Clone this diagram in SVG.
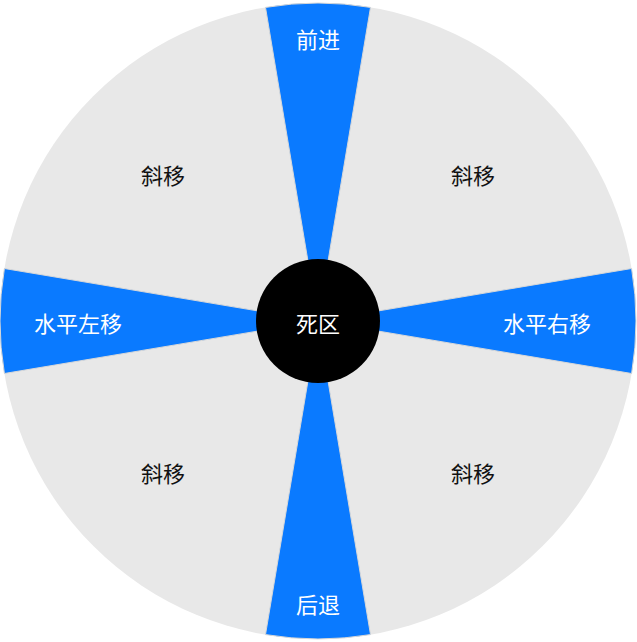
<svg xmlns="http://www.w3.org/2000/svg" width="637" height="642" viewBox="0 0 637 642">
<style>
.bg{fill:#e8e8e8}
.w{fill:#0a7aff;stroke:#d8d8d8;stroke-width:1}
text{font-family:"Noto Sans CJK SC","Noto Sans",sans-serif;font-size:22px;text-anchor:middle;dominant-baseline:central}
.d{fill:#111}
.l{fill:#fff}
</style>
<g id="bg"><circle class="bg" cx="318" cy="321" r="318"/></g>
<g id="forward"><path class="w" d="M318 321 L265.5 7.4 A318 318 0 0 1 370.5 7.4 Z"/><text class="l" x="318" y="38">前进</text></g>
<g id="back"><path class="w" d="M318 321 L265.5 634.6 A318 318 0 0 0 370.5 634.6 Z"/><text class="l" x="318" y="603">后退</text></g>
<g id="right"><path class="w" d="M318 321 L631.6 268.5 A318 318 0 0 1 631.6 373.5 Z"/><text class="l" x="547" y="322">水平右移</text></g>
<g id="left"><path class="w" d="M318 321 L4.4 268.5 A318 318 0 0 0 4.4 373.5 Z"/><text class="l" x="78" y="322">水平左移</text></g>
<g id="d1"><text class="d" x="163" y="174">斜移</text></g>
<g id="d2"><text class="d" x="473" y="174">斜移</text></g>
<g id="d3"><text class="d" x="163" y="472">斜移</text></g>
<g id="d4"><text class="d" x="473" y="472">斜移</text></g>
<g id="dead"><circle cx="318" cy="321" r="62" fill="#000"/><text class="l" x="318" y="322">死区</text></g>
<g id="connectors"/>
</svg>
